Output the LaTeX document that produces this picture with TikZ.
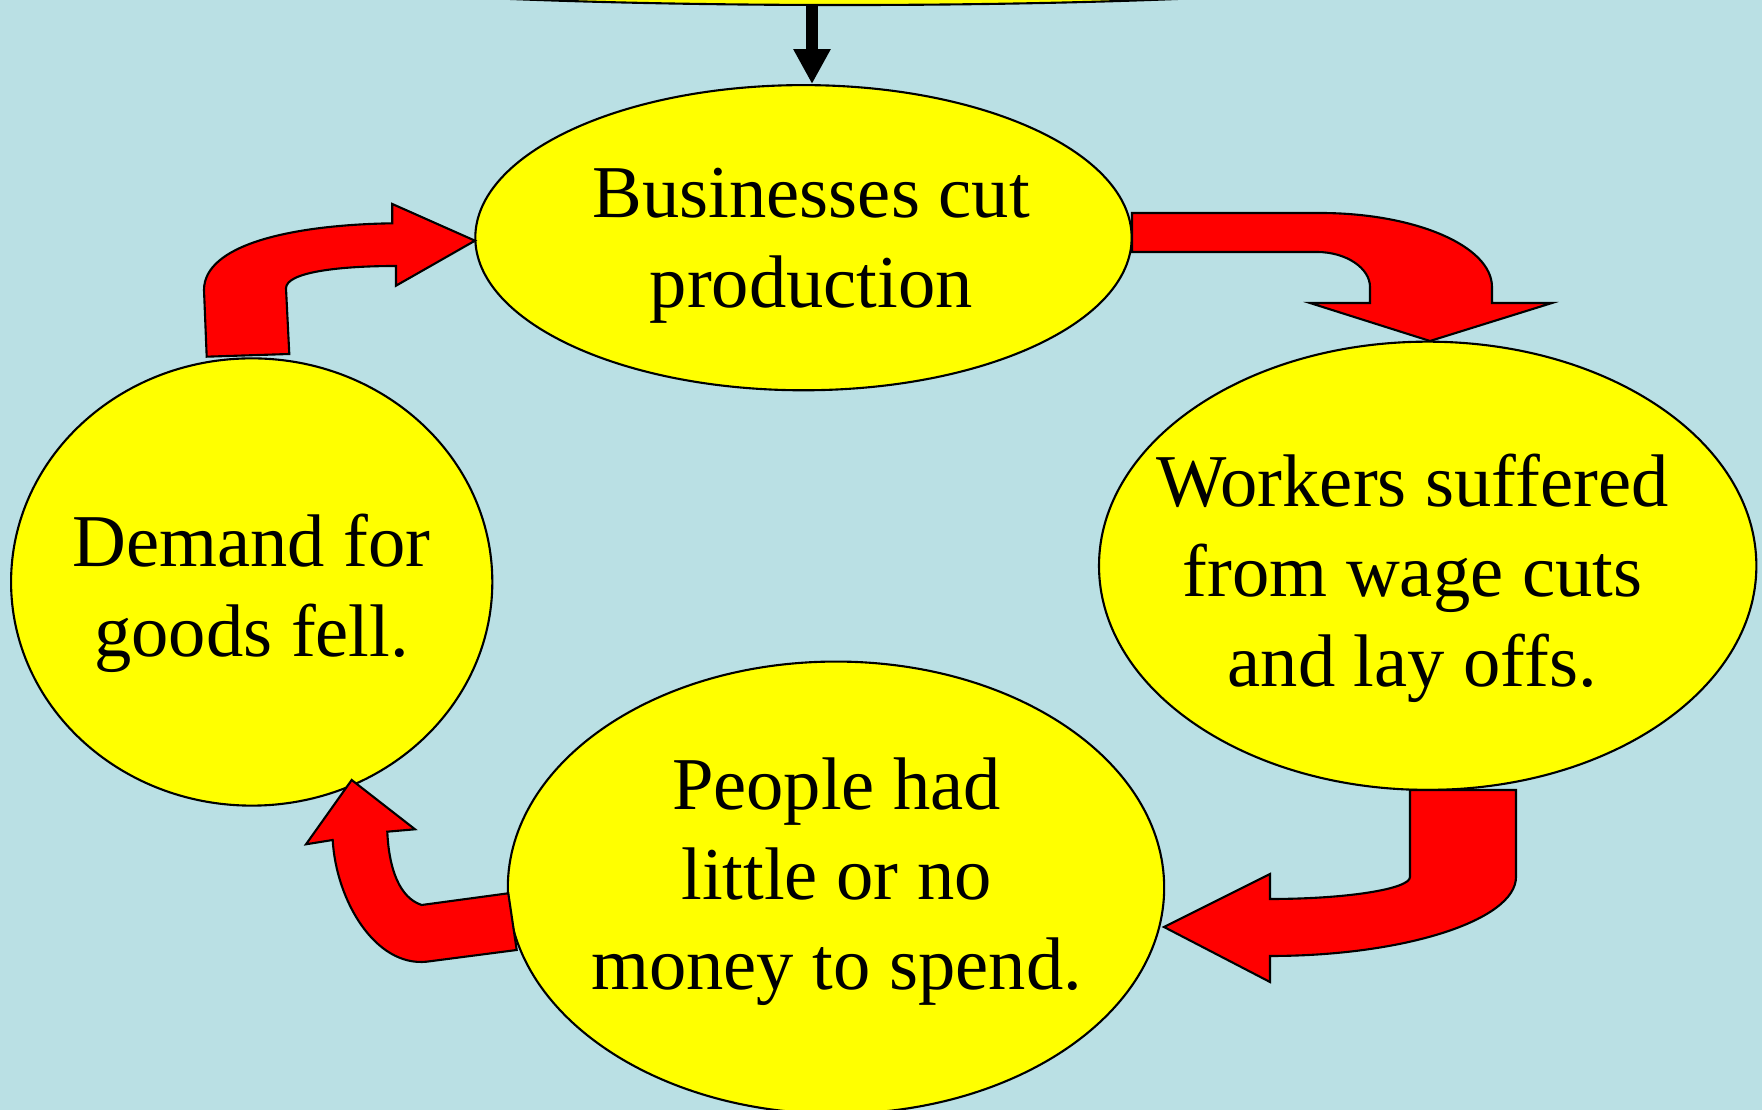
\documentclass[tikz,border=0pt]{standalone}
\usepackage{fontspec}
\setmainfont{Liberation Serif}
\usetikzlibrary{shapes.geometric,arrows.meta}

\definecolor{bgblue}{RGB}{186,224,228}
\definecolor{blobyellow}{RGB}{255,255,0}
\definecolor{arrowred}{RGB}{255,0,0}

\tikzset{
  blob/.style={ellipse, draw=black, fill=blobyellow, line width=0.6pt, inner sep=0pt},
  blobtext/.style={align=center, inner sep=0pt, font=\fontsize{21.2}{25.6}\selectfont},
  bentarrow/.style={draw=black, fill=arrowred, line width=0.6pt, line join=miter}
}

\begin{document}
\begin{tikzpicture}[x=0.01cm,y=-0.01cm]
\fill[bgblue] (0,0) rectangle (1762,1110);
\useasboundingbox (0,0) rectangle (1762,1110);
\clip (0,0) rectangle (1762,1110);

% the four stages and the cause above
\node[blob, minimum width=12.6cm, minimum height=0.8cm] (cause) at (844,-35) {};
\node[blob, minimum width=6.56cm, minimum height=3.05cm] (cut) at (803.5,237.7) {};
\node[blob, minimum width=6.57cm, minimum height=4.48cm] (workers) at (1427.7,565.8) {};
\node[blob, minimum width=6.56cm, minimum height=4.52cm] (people) at (836,887.7) {};
\node[blob, minimum width=4.81cm, minimum height=4.47cm] (demand) at (251.7,582) {};

\node[blobtext] (cuttext) at (811.3,246) {Businesses cut\\production};
\node[blobtext] (workerstext) at (1412.3,578) {Workers suffered\\from wage cuts\\and lay offs.};
\node[blobtext] (peopletext) at (836.6,881.4) {People had\\little or no\\money to spend.};
\node[blobtext] (demandtext) at (251.7,593.7) {Demand for\\goods fell.};

% black arrow from the cause
\coordinate (drop) at (812,5);
\draw[line width=0.12cm, -{Triangle[width=0.35cm,length=0.35cm]}] (drop) -- (drop |- cut.north);

% cut -> workers
\draw[bentarrow] (1132,213) -- (1320,213) .. controls (1415,213) and (1492,246) .. (1492,287)
  -- (1492,303) -- (1552,303) -- (1430,341) -- (1310,303) -- (1370,303) -- (1370,287)
  .. controls (1370,268) and (1346,252) .. (1317,252) -- (1132,252) -- cycle;

% workers -> people
\draw[bentarrow] (1410,790) -- (1516,790) -- (1516,877) .. controls (1516,920) and (1405,956) .. (1270,956)
  -- (1270,982) -- (1164,927) -- (1270,874) -- (1270,899)
  .. controls (1347,899) and (1410,889) .. (1410,877) -- cycle;

% people -> demand
\draw[bentarrow] (508.3,893.3) -- (421.7,905) .. controls (400,898) and (389,870) .. (387.3,831.7)
  -- (415,829.3) -- (351.7,780) -- (306,844.3) -- (332.7,840)
  .. controls (336,900) and (375,967) .. (426.7,961.7) -- (516.7,950) -- cycle;

% demand -> cut
\draw[bentarrow] (206.7,356.7) -- (204,290) .. controls (204,245) and (290,225) .. (392.3,223.3)
  -- (392.3,204) -- (475,240.7) -- (396,285.7) -- (396,266)
  .. controls (340,266) and (286,272) .. (286,288.3) -- (289.3,354) -- cycle;
\end{tikzpicture}
\end{document}
